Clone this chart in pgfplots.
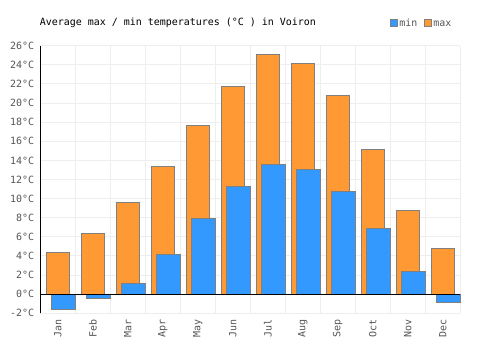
\documentclass[border=0pt]{standalone}
\usepackage{pgfplots}
\pgfplotsset{compat=1.18}
\usepackage{fontspec}
\setmainfont{DejaVu Sans Mono}
\definecolor{maxc}{HTML}{FF9933}
\definecolor{minc}{HTML}{3399FF}
\definecolor{edge}{HTML}{808080}
\definecolor{gridc}{HTML}{EEEEEE}
\definecolor{txt}{HTML}{555555}
\begin{document}
\begin{tikzpicture}
\begin{axis}[
  name=ax,
  at={(0,0)}, anchor=south west,
  width=420bp, height=267.6bp, scale only axis,
  xmin=-0.5, xmax=11.5, ymin=-2, ymax=26,
  xtick={0,...,11},
  xticklabels={Jan,Feb,Mar,Apr,May,Jun,Jul,Aug,Sep,Oct,Nov,Dec},
  minor xtick={-0.5,0.5,...,11.5},
  ytick={-2,0,2,4,6,8,10,12,14,16,18,20,22,24,26},
  yticklabels={-2°C,0°C,2°C,4°C,6°C,8°C,10°C,12°C,14°C,16°C,18°C,20°C,22°C,24°C,26°C},
  xminorgrids, ymajorgrids,
  grid style={gridc, line width=1bp},
  minor grid style={gridc, line width=1bp},
  axis line style={draw=none},
  major tick length=0pt, minor tick length=0pt,
  tick label style={font=\fontsize{10}{12}\selectfont, text=txt, inner sep=0pt},
  xticklabel style={rotate=90, anchor=east},
  yticklabel style={anchor=east},
  xticklabel shift=6bp,
  yticklabel shift=6bp,
  clip=false,
  reverse legend,
  legend columns=2,
  legend style={draw=none, fill=none, at={(0.983,1.086)}, anchor=east,
    font=\fontsize{10}{12}\selectfont, text=txt, inner sep=0pt,
    nodes={inner sep=1.5bp, text height=7bp, text depth=0bp},
    /tikz/every even column/.style={column sep=5bp}},
  legend cell align=left,
]
\addplot[ybar, bar width=0.67, bar shift=0, fill=maxc, draw=edge, line width=1bp,
  legend image code/.code={\draw[fill=maxc, draw=edge, line width=1bp] (0bp,-3.5bp) rectangle (7bp,3.5bp);}]
  coordinates {(0,4.4) (1,6.3) (2,9.6) (3,13.4) (4,17.7) (5,21.7) (6,25.1) (7,24.1) (8,20.8) (9,15.1) (10,8.8) (11,4.8)};
\addlegendentry{max}
\addplot[ybar, bar width=0.69, bar shift=0.157, fill=minc, draw=edge, line width=1bp,
  legend image code/.code={\draw[fill=minc, draw=edge, line width=1bp] (0bp,-3.5bp) rectangle (7bp,3.5bp);}]
  coordinates {(0,-1.6) (1,-0.4) (2,1.1) (3,4.2) (4,7.9) (5,11.3) (6,13.6) (7,13.0) (8,10.7) (9,6.9) (10,2.4) (11,-0.9)};
\addlegendentry{min}
\addplot[black, line width=1bp, forget plot] coordinates {(-0.5,0) (11.5,0)};
\addplot[black, line width=1bp, forget plot] coordinates {(-0.5,-2) (-0.5,26)};
\end{axis}
\node[anchor=west, font=\fontsize{10}{12}\selectfont, inner sep=0pt] at ([xshift=-0.6bp, yshift=22.7bp]ax.north west) {Average max / min temperatures (°C ) in Voiron};
\pgfresetboundingbox
\path[use as bounding box] ([xshift=-40.3bp, yshift=-36.7bp]ax.south west) rectangle ++(500bp,350bp);
\end{tikzpicture}
\end{document}
